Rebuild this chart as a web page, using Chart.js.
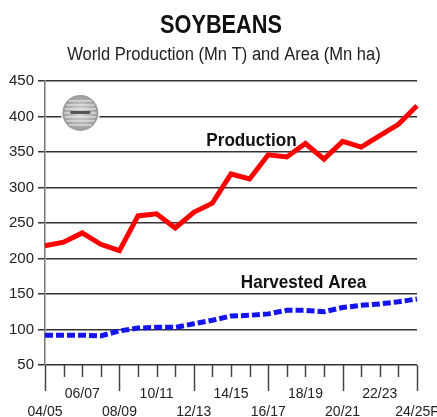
<!DOCTYPE html>
<html>
<head>
<meta charset="utf-8">
<script src="https://cdn.jsdelivr.net/npm/chart.js@4"></script>
<style>
  html, body { margin: 0; padding: 0; background: #fff; }
  #wrap { width: 437px; height: 417px; }
</style>
</head>
<body>
<div id="wrap"><canvas id="soyChart" width="437" height="417"></canvas></div>
<script>
const FONT = "'Liberation Sans', Arial, sans-serif";

const chartTitle = 'SOYBEANS';
const chartSubtitle = 'World Production (Mn T) and Area (Mn ha)';

const seasons = [
    '04/05', '05/06', '06/07', '07/08', '08/09', '09/10', '10/11',
    '11/12', '12/13', '13/14', '14/15', '15/16', '16/17', '17/18',
    '18/19', '19/20', '20/21', '21/22', '22/23', '23/24', '24/25F'
];
// world production, Mn T
const production = [218, 223, 236, 220, 211, 260, 263, 243, 265, 278, 319, 312, 346, 343, 362, 340, 365, 357, 373, 389, 415];
// harvested area, Mn ha
const area = [92, 92, 92, 91, 98, 102, 103, 103, 108, 113, 119, 120, 122, 127, 127, 125, 131, 134, 136, 139, 143];

const yTicks = [50, 100, 150, 200, 250, 300, 350, 400, 450];

// narrow-looking text: squeeze horizontally around the anchor point
function squeezedText(ctx, text, x, y, font, sx) {
    ctx.save();
    ctx.font = font;
    ctx.textAlign = 'center';
    ctx.textBaseline = 'alphabetic';
    ctx.translate(x, y);
    ctx.scale(sx, 1);
    ctx.fillText(text, 0, 0);
    ctx.restore();
}

const headings = {
    id: 'headings',
    afterDraw(chart) {
        const { ctx } = chart;
        ctx.save();
        ctx.fillStyle = '#111';
        squeezedText(ctx, chartTitle, 221, 33, 'bold 25px ' + FONT, 0.87);
        ctx.fillStyle = '#222';
        squeezedText(ctx, chartSubtitle, 224, 60, '18px ' + FONT, 0.92);
        ctx.restore();
    }
};

// x tick marks: long every 4th season, short in between
const seasonTicks = {
    id: 'seasonTicks',
    afterDraw(chart) {
        const { ctx, scales: { x }, chartArea } = chart;
        ctx.save();
        ctx.strokeStyle = '#444';
        ctx.lineWidth = 1.5;
        seasons.forEach((s, i) => {
            const px = Math.round(x.getPixelForValue(i)) + 0.5;
            const len = i % 4 === 0 ? 26 : 12;
            ctx.beginPath();
            ctx.moveTo(px, chartArea.bottom);
            ctx.lineTo(px, chartArea.bottom + len);
            ctx.stroke();
        });
        ctx.restore();
    }
};

// series names written next to the lines + emblem in the corner
const notes = {
    id: 'notes',
    afterDatasetsDraw(chart) {
        const { ctx, scales: { x, y } } = chart;
        ctx.save();
        ctx.fillStyle = '#111';
        const f = 'bold 19px ' + FONT;
        squeezedText(ctx, 'Production', x.getPixelForValue(11.1), y.getPixelForValue(369) + 7, f, 0.9);
        squeezedText(ctx, 'Harvested Area', x.getPixelForValue(13.9), y.getPixelForValue(168) + 7, f, 0.9);

        // emblem
        const cx = x.getPixelForValue(1.9), cy = y.getPixelForValue(405);
        ctx.fillStyle = '#fff';
        ctx.fillRect(cx - 19, cy - 22, 38, 44);
        const g = ctx.createRadialGradient(cx, cy, 2, cx, cy, 18);
        g.addColorStop(0, '#d4d4d4');
        g.addColorStop(1, '#9a9a9a');
        ctx.fillStyle = g;
        ctx.beginPath();
        ctx.arc(cx, cy, 18, 0, Math.PI * 2);
        ctx.fill();
        ctx.strokeStyle = '#eee';
        ctx.lineWidth = 1;
        for (let k = -12; k <= 12; k += 4) {
            const hw = Math.sqrt(18 * 18 - k * k) - 2;
            ctx.beginPath();
            ctx.moveTo(cx - hw, cy + k);
            ctx.lineTo(cx + hw, cy + k);
            ctx.stroke();
        }
        ctx.fillStyle = '#555';
        ctx.fillRect(cx - 10, cy - 2, 20, 3);
        ctx.restore();
    }
};

new Chart(document.getElementById('soyChart'), {
    type: 'line',
    data: {
        labels: seasons,
        datasets: [
            {
                label: 'Production',
                data: production,
                borderColor: '#ff0000',
                borderWidth: 5,
                pointRadius: 0,
                tension: 0
            },
            {
                label: 'Harvested Area',
                data: area,
                borderColor: '#1414f0',
                borderWidth: 5,
                borderDash: [8, 3],
                pointRadius: 0,
                tension: 0
            }
        ]
    },
    options: {
        responsive: false,
        animation: false,
        devicePixelRatio: 1,
        layout: { padding: { left: 0, right: 0, top: 81, bottom: 0 } },
        scales: {
            x: {
                offset: false,
                afterFit: (scale) => {
                    scale.height = 52;
                    scale.paddingLeft = 0;
                    scale.paddingRight = 20;
                },
                grid: { display: false, drawTicks: false },
                border: { display: false },
                ticks: {
                    autoSkip: false,
                    maxRotation: 0,
                    padding: 20,
                    color: '#222',
                    font: { family: FONT, size: 14, lineHeight: 1.3 },
                    callback: function (val, i) {
                        if (i % 4 === 0) return ['', seasons[i]];
                        if (i % 2 === 0) return [seasons[i], ''];
                        return '';
                    }
                }
            },
            y: {
                min: 50,
                max: 450,
                afterBuildTicks: (scale) => { scale.ticks = yTicks.map(v => ({ value: v })); },
                afterFit: (scale) => { scale.width = 45; },
                grid: { color: '#333', lineWidth: 1.5, tickLength: 7 },
                border: { display: true, color: '#777', width: 1.5 },
                ticks: {
                    padding: 4,
                    color: '#222',
                    font: { family: FONT, size: 15 }
                }
            }
        },
        plugins: {
            legend: { display: false },
            tooltip: { enabled: false },
            title: { display: false },
            subtitle: { display: false }
        }
    },
    plugins: [seasonTicks, notes, headings]
});
</script>
</body>
</html>
